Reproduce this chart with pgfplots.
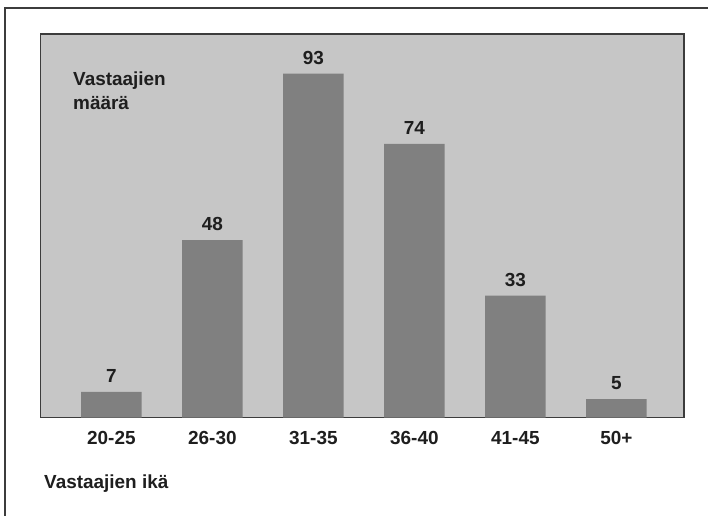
\documentclass[border=0pt]{standalone}
\usepackage{pgfplots}
\pgfplotsset{compat=1.18}
\usepackage{fontspec}
\setmainfont{Liberation Sans}
\definecolor{plotbg}{HTML}{C6C6C6}
\definecolor{bargray}{HTML}{808080}
\definecolor{framegray}{HTML}{3C3C3C}
\definecolor{textgray}{HTML}{1E1E1E}
\newcommand{\lbl}{\fontsize{19}{22}\selectfont\bfseries}

\begin{document}
\begin{tikzpicture}[x=1bp,y=1bp]
\path[use as bounding box] (0,0) rectangle (708,516);
\draw[line width=1.6bp, framegray] (5,0) -- (5,508) -- (708,508);
\begin{axis}[
  at={(40.7bp,98.3bp)}, anchor=south west,
  width=643.3bp, height=383.7bp, scale only axis,
  ymin=0, ymax=103.7, xmin=-0.70, xmax=5.67,
  ybar, bar width=0.6,
  axis background/.style={fill=plotbg},
  axis line style={framegray, line width=1.2bp},
  ytick=\empty,
  xtick=data,
  xticklabels={20-25,26-30,31-35,36-40,41-45,50+},
  major tick length=0pt,
  /pgf/number format/assume math mode=true,
  xticklabel style={font=\lbl, text=textgray, yshift=-10bp},
  nodes near coords,
  nodes near coords style={font=\lbl, text=textgray, yshift=5.5bp},
]
\addplot[fill=bargray, draw=none] coordinates {
  (0,7) (1,48) (2,93) (3,74) (4,33) (5,5)
};
\end{axis}
\node[anchor=base west, inner sep=0pt, font=\lbl, text=textgray] at (73,430) {Vastaajien};
\node[anchor=base west, inner sep=0pt, font=\lbl, text=textgray] at (73,406) {määrä};
\node[anchor=base west, inner sep=0pt, font=\lbl, text=textgray] at (44,27.3) {Vastaajien ikä};
\end{tikzpicture}
\end{document}
